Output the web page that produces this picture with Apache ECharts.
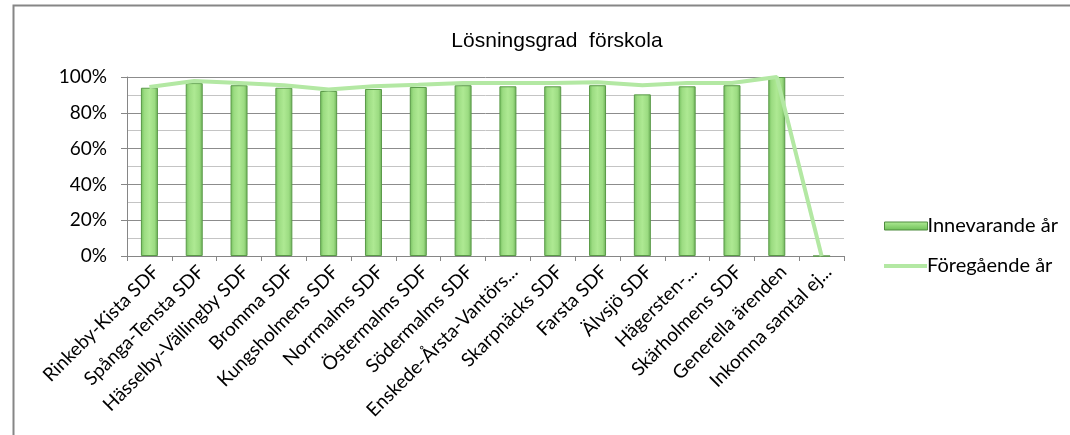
<!DOCTYPE html>
<html>
<head>
<meta charset="utf-8">
<script src="https://cdn.jsdelivr.net/npm/echarts@6/dist/echarts.min.js"></script>
<style>html,body{margin:0;padding:0;background:#fff}#c{width:1070px;height:435px}</style>
</head>
<body>
<div id="c"></div>
<script>
var categories = ['Rinkeby-Kista SDF','Spånga-Tensta SDF','Hässelby-Vällingby SDF','Bromma SDF','Kungsholmens SDF','Norrmalms SDF','Östermalms SDF','Södermalms SDF','Enskede-Årsta-Vantörs...','Skarpnäcks SDF','Farsta SDF','Älvsjö SDF','Hägersten-...','Skärholmens SDF','Generella ärenden','Inkomna samtal ej...'];
var currentYear = [94.0, 96.6, 95.4, 94.0, 92.2, 93.3, 94.4, 95.4, 94.8, 94.8, 95.4, 90.3, 94.8, 95.4, 100, 0];
var previousYear = [94.4, 97.8, 96.7, 95.4, 93.0, 94.8, 95.7, 96.7, 96.7, 96.7, 97.0, 95.4, 96.7, 96.7, 100, 0];

var lineColor = '#b3e8a3';
var chart = echarts.init(document.getElementById('c'));
chart.setOption({
  animation: false,
  title: {
    text: 'Lösningsgrad  förskola',
    left: 552, top: 26, textAlign: 'center',
    textStyle: {fontFamily: 'Liberation Sans', fontSize: 21, fontWeight: 'normal', color: '#000'}
  },
  graphic: [{
    type: 'rect', shape: {x: 13.5, y: 5.5, width: 1100, height: 460},
    style: {fill: 'none', stroke: '#868686', lineWidth: 2}, silent: true
  }],
  legend: [{
    orient: 'vertical', left: 879, top: 211,
    itemWidth: 43, itemHeight: 8, itemGap: 6,
    textStyle: {fontFamily: 'Lato', fontSize: 20, color: '#000', padding: [0, 0, 0, -5]},
    data: [
      {name: 'Innevarande år', icon: 'rect', itemStyle: {color: {type: 'linear', x: 0, y: 0, x2: 0, y2: 1, colorStops: [{offset: 0, color: '#b0eb96'}, {offset: 1, color: '#6cbf55'}]}, borderColor: '#4f8c3f', borderWidth: 1}}
    ]
  }, {
    orient: 'vertical', left: 879, top: 251,
    itemWidth: 43, itemHeight: 4,
    textStyle: {fontFamily: 'Lato', fontSize: 20, color: '#000', padding: [0, 0, 0, -5]},
    data: [
      {name: 'Föregående år', icon: 'rect', itemStyle: {color: lineColor}}
    ]
  }],
  grid: {left: 127, right: 226, top: 77, bottom: 179},
  xAxis: {
    type: 'category', data: categories,
    axisLine: {lineStyle: {color: '#868686', width: 1}},
    axisTick: {show: true, length: 5, lineStyle: {color: '#868686'}},
    axisLabel: {rotate: 45, interval: 0, fontFamily: 'Lato', fontSize: 19, color: '#000', margin: 6, verticalAlign: 'top'}
  },
  yAxis: {
    type: 'value', min: 0, max: 100, interval: 20,
    axisLine: {show: true, lineStyle: {color: '#868686'}},
    axisTick: {show: true, length: 6, lineStyle: {color: '#868686'}},
    axisLabel: {formatter: '{value}%', fontFamily: 'Lato', fontSize: 19, color: '#000', margin: 20},
    splitLine: {show: true, lineStyle: {color: '#8c8c8c', width: 1}},
    minorTick: {show: false, splitNumber: 2},
    minorSplitLine: {show: true, lineStyle: {color: '#c4c4c4', width: 1}}
  },
  series: [
    {
      name: 'Innevarande år', type: 'bar', data: currentYear, barWidth: 17,
      itemStyle: {
        color: {type: 'linear', x: 0, y: 0, x2: 1, y2: 0, colorStops: [
          {offset: 0, color: '#72bd5c'}, {offset: 0.2, color: '#9cdc82'},
          {offset: 0.5, color: '#aee993'}, {offset: 0.8, color: '#9cdc82'}, {offset: 1, color: '#6aae55'}]},
        borderColor: '#5a9a48', borderWidth: 1
      }
    },
    {
      name: 'Föregående år', type: 'line', data: previousYear, symbol: 'none',
      lineStyle: {color: lineColor, width: 4}, itemStyle: {color: lineColor}, z: 5
    }
  ]
});
</script>
</body>
</html>
